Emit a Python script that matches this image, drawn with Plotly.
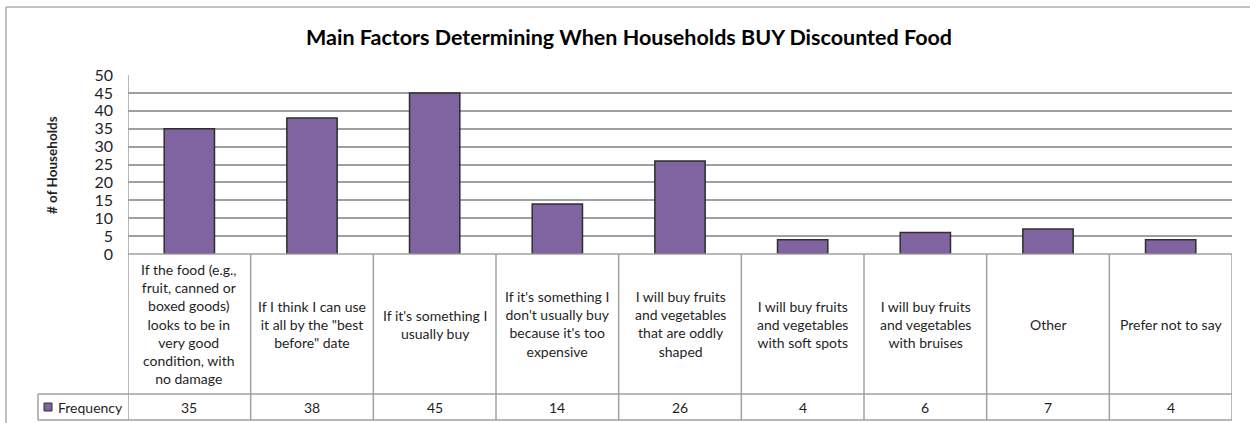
import plotly.graph_objects as go

# Survey responses: factors that decide when a household buys discounted food
categories = [
    "If the food (e.g.,<br>fruit, canned or<br>boxed goods)<br>looks to be in<br>very good<br>condition, with<br>no damage",
    "If I think I can use<br>it all by the \"best<br>before\" date",
    "If it's something I<br>usually buy",
    "If it's something I<br>don't usually buy<br>because it's too<br>expensive",
    "I will buy fruits<br>and vegetables<br>that are oddly<br>shaped",
    "I will buy fruits<br>and vegetables<br>with soft spots",
    "I will buy fruits<br>and vegetables<br>with bruises",
    "Other",
    "Prefer not to say",
]
frequency = [35, 38, 45, 14, 26, 4, 6, 7, 4]
y_ticks = [0, 5, 10, 15, 20, 25, 30, 35, 40, 45, 50]

W, H = 1250, 423
FONT = "Lato"
TEXT = "#1f1f1f"
GRID = "#a0a0a0"
BAR = "#8064A2"
BAR_EDGE = "#2e2e2e"


def px(x):
    return x / W


def py(y):
    return 1 - y / H


# pixel layout of the chart frame
left, right = 128, 1232
top, base = 75, 254
row1, row2 = 394, 420
key_left = 38

idx = list(range(len(categories)))

fig = go.Figure(
    go.Bar(
        x=idx,
        y=frequency,
        marker=dict(color=BAR, line=dict(color=BAR_EDGE, width=1.5)),
        width=0.41,
        showlegend=False,
        hoverinfo="y",
    )
)

shapes = []
# outer chart frame (left and top edges)
shapes.append(dict(type="line", xref="paper", yref="paper", x0=px(6), x1=px(6),
                   y0=py(7), y1=py(H), line=dict(color="#868686", width=1)))
shapes.append(dict(type="line", xref="paper", yref="paper", x0=px(6), x1=px(W),
                   y0=py(7), y1=py(7), line=dict(color="#868686", width=1)))
# value axis line continuing down through the data table
shapes.append(dict(type="line", xref="x", yref="paper", x0=-0.5, x1=-0.5,
                   y0=py(top), y1=py(row2), line=dict(color=GRID, width=1.5)))
# data table column dividers
for i in range(1, len(categories) + 1):
    shapes.append(dict(type="line", xref="x", yref="paper", x0=i - 0.5, x1=i - 0.5,
                       y0=py(base), y1=py(row2), line=dict(color=GRID, width=1.5)))
# data table rows
shapes.append(dict(type="line", xref="paper", yref="paper", x0=px(left), x1=px(right),
                   y0=py(base), y1=py(base), line=dict(color=GRID, width=1.5)))
for yy in (row1, row2):
    shapes.append(dict(type="line", xref="paper", yref="paper", x0=px(key_left), x1=px(right),
                       y0=py(yy), y1=py(yy), line=dict(color=GRID, width=1.5)))
shapes.append(dict(type="line", xref="paper", yref="paper", x0=px(key_left), x1=px(key_left),
                   y0=py(row1), y1=py(row2), line=dict(color=GRID, width=1.5)))
# legend key swatch
shapes.append(dict(type="rect", xref="paper", yref="paper", x0=px(44), x1=px(52),
                   y0=py(411), y1=py(403), fillcolor=BAR,
                   line=dict(color=BAR_EDGE, width=1)))

annotations = []
for i, (cat, val) in enumerate(zip(categories, frequency)):
    annotations.append(dict(x=i, y=py((base + row1) / 2), xref="x", yref="paper",
                            text=cat, showarrow=False, yanchor="middle",
                            font=dict(family=FONT, size=14, color=TEXT)))
    annotations.append(dict(x=i, y=py((row1 + row2) / 2), xref="x", yref="paper",
                            text=str(val), showarrow=False, yanchor="middle",
                            font=dict(family=FONT, size=14, color=TEXT)))
annotations.append(dict(x=px(56), y=py((row1 + row2) / 2), xref="paper", yref="paper",
                        text="Frequency", showarrow=False, xanchor="left", yanchor="middle",
                        font=dict(family=FONT, size=14, color=TEXT)))
annotations.append(dict(x=px(42), y=py(165), xref="paper", yref="paper",
                        text="<b># of Households</b>", showarrow=False, textangle=-90,
                        font=dict(family=FONT, size=13.5, color=TEXT)))
annotations.append(dict(x=px(629), y=py(37), xref="paper", yref="paper",
                        text="<b>Main Factors Determining When Households BUY Discounted Food</b>",
                        showarrow=False, xanchor="center", yanchor="middle",
                        font=dict(family=FONT, size=21.5, color="#000000")))

fig.update_layout(
    template="none",
    width=W,
    height=H,
    autosize=False,
    margin=dict(l=0, r=0, t=0, b=0, pad=0, autoexpand=False),
    paper_bgcolor="white",
    plot_bgcolor="white",
    xaxis=dict(domain=[px(left), px(right)], range=[-0.5, len(categories) - 0.5],
               showticklabels=False, showgrid=False, zeroline=False, showline=False,
               ticks="", automargin=False, fixedrange=True),
    yaxis=dict(domain=[py(base), py(top)], range=[0, 50], tickvals=y_ticks,
               showgrid=True, gridcolor=GRID, gridwidth=1.5, zeroline=False,
               showline=False, ticks="", ticklabelstandoff=14, automargin=False,
               tickfont=dict(family=FONT, size=16, color=TEXT), fixedrange=True),
    shapes=shapes,
    annotations=annotations,
)

fig.write_html("out.html")
